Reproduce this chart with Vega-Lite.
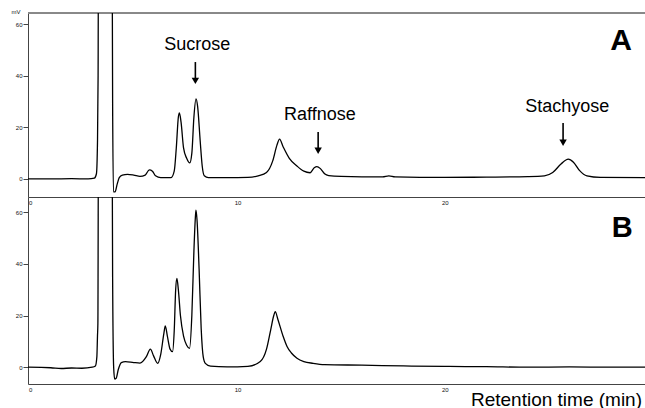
{
  "$schema": "https://vega.github.io/schema/vega-lite/v6.json",
  "padding": {"left": 11, "top": 8, "right": 0, "bottom": 0},
  "background": "white",
  "config": {
    "font": "Liberation Sans",
    "view": {"stroke": null},
    "concat": {"spacing": 0},
    "axis": {"grid": false, "domainColor": "#444", "tickColor": "#444", "labelColor": "#111", "labelFontSize": 6, "labelFont": "Liberation Sans"}
  },
  "datasets": {
    "traceA": [
      {"t": -0.1, "mv": 0}, {"t": 1, "mv": 0}, {"t": 2, "mv": 0.1}, {"t": 2.8, "mv": 0}, {"t": 3.1, "mv": 0.3},
      {"t": 3.2, "mv": 2}, {"t": 3.25, "mv": 14}, {"t": 3.28, "mv": 40}, {"t": 3.3, "mv": 100},
      {"t": 3.95, "mv": 100}, {"t": 3.98, "mv": 30}, {"t": 4.02, "mv": -5}, {"t": 4.1, "mv": -5},
      {"t": 4.2, "mv": -2}, {"t": 4.3, "mv": 0.5}, {"t": 4.45, "mv": 1.5}, {"t": 4.7, "mv": 1.8},
      {"t": 5.0, "mv": 1.5}, {"t": 5.3, "mv": 1.0}, {"t": 5.55, "mv": 1.5}, {"t": 5.75, "mv": 3.5},
      {"t": 5.9, "mv": 3.0}, {"t": 6.05, "mv": 1.2}, {"t": 6.3, "mv": 0.5}, {"t": 6.8, "mv": 0.5},
      {"t": 6.95, "mv": 3}, {"t": 7.05, "mv": 12}, {"t": 7.15, "mv": 24}, {"t": 7.2, "mv": 25.6},
      {"t": 7.28, "mv": 22}, {"t": 7.4, "mv": 12}, {"t": 7.55, "mv": 8}, {"t": 7.7, "mv": 6.2},
      {"t": 7.8, "mv": 10}, {"t": 7.9, "mv": 24}, {"t": 8.0, "mv": 31}, {"t": 8.08, "mv": 28},
      {"t": 8.2, "mv": 15}, {"t": 8.3, "mv": 5}, {"t": 8.4, "mv": 1.2}, {"t": 8.6, "mv": 0.5},
      {"t": 9.5, "mv": 0.5}, {"t": 10.5, "mv": 0.6}, {"t": 11.0, "mv": 1.2}, {"t": 11.4, "mv": 2.5},
      {"t": 11.7, "mv": 7}, {"t": 11.9, "mv": 13}, {"t": 12.03, "mv": 15.4}, {"t": 12.2, "mv": 12.5},
      {"t": 12.5, "mv": 8}, {"t": 12.87, "mv": 5}, {"t": 13.2, "mv": 3}, {"t": 13.5, "mv": 2.4},
      {"t": 13.7, "mv": 4.3}, {"t": 13.83, "mv": 4.8}, {"t": 14.0, "mv": 4}, {"t": 14.2, "mv": 2},
      {"t": 14.4, "mv": 1.3}, {"t": 15, "mv": 1}, {"t": 17, "mv": 0.8}, {"t": 17.3, "mv": 1.2},
      {"t": 17.6, "mv": 0.8}, {"t": 20, "mv": 0.6}, {"t": 22, "mv": 0.7}, {"t": 24, "mv": 0.9},
      {"t": 24.8, "mv": 1.2}, {"t": 25.2, "mv": 2.5}, {"t": 25.6, "mv": 5.8}, {"t": 25.95, "mv": 7.7},
      {"t": 26.2, "mv": 6.5}, {"t": 26.5, "mv": 3.2}, {"t": 26.85, "mv": 1.2}, {"t": 27.5, "mv": 0.6},
      {"t": 29.65, "mv": 0.5}
    ],
    "traceB": [
      {"t": -0.1, "mv": 0}, {"t": 1.0, "mv": -0.2}, {"t": 1.5, "mv": -0.5}, {"t": 2.0, "mv": -0.3},
      {"t": 2.5, "mv": -0.4}, {"t": 3.0, "mv": 0}, {"t": 3.15, "mv": 0.5}, {"t": 3.22, "mv": 4},
      {"t": 3.25, "mv": 12}, {"t": 3.27, "mv": 17}, {"t": 3.3, "mv": 100}, {"t": 3.95, "mv": 100},
      {"t": 3.98, "mv": 35}, {"t": 4.03, "mv": 0}, {"t": 4.08, "mv": -4.6}, {"t": 4.15, "mv": -4.3},
      {"t": 4.25, "mv": -1}, {"t": 4.4, "mv": 1.8}, {"t": 4.6, "mv": 2.2}, {"t": 5.0, "mv": 1.8},
      {"t": 5.3, "mv": 1.6}, {"t": 5.6, "mv": 4}, {"t": 5.8, "mv": 7}, {"t": 5.95, "mv": 4.5},
      {"t": 6.15, "mv": 1.5}, {"t": 6.3, "mv": 5}, {"t": 6.45, "mv": 13}, {"t": 6.52, "mv": 16},
      {"t": 6.62, "mv": 12}, {"t": 6.75, "mv": 7}, {"t": 6.87, "mv": 6}, {"t": 6.95, "mv": 14},
      {"t": 7.02, "mv": 30}, {"t": 7.08, "mv": 34.4}, {"t": 7.15, "mv": 30}, {"t": 7.25, "mv": 20},
      {"t": 7.4, "mv": 12}, {"t": 7.55, "mv": 8.5}, {"t": 7.69, "mv": 7.3}, {"t": 7.8, "mv": 20},
      {"t": 7.9, "mv": 45}, {"t": 7.97, "mv": 58}, {"t": 8.0, "mv": 60.8}, {"t": 8.05, "mv": 57},
      {"t": 8.15, "mv": 38}, {"t": 8.25, "mv": 15}, {"t": 8.35, "mv": 4}, {"t": 8.45, "mv": 1.5},
      {"t": 8.7, "mv": 0.4}, {"t": 9.5, "mv": 0.1}, {"t": 10.5, "mv": 0.3}, {"t": 11.1, "mv": 2.2},
      {"t": 11.4, "mv": 7}, {"t": 11.6, "mv": 14.4}, {"t": 11.75, "mv": 20}, {"t": 11.82, "mv": 21.5},
      {"t": 11.95, "mv": 18.5}, {"t": 12.2, "mv": 12}, {"t": 12.39, "mv": 8}, {"t": 12.6, "mv": 5.5},
      {"t": 12.87, "mv": 3.5}, {"t": 13.2, "mv": 2.2}, {"t": 13.65, "mv": 1.5}, {"t": 14.2, "mv": 1.0},
      {"t": 16, "mv": 0.8}, {"t": 18, "mv": 0.5}, {"t": 20, "mv": 0.3}, {"t": 22, "mv": 0.2},
      {"t": 24, "mv": 0}, {"t": 26, "mv": 0.1}, {"t": 28, "mv": 0}, {"t": 29.65, "mv": 0}
    ],
    "labelsA": [
      {"label": "Sucrose", "t": 8.06, "y": 51.8},
      {"label": "Raffnose", "t": 13.97, "y": 24.8},
      {"label": "Stachyose", "t": 25.9, "y": 27.9}
    ],
    "arrowsA": [
      {"t": 7.97, "y1": 45.3, "y2": 38.5, "ty": 38.0},
      {"t": 13.89, "y1": 18.2, "y2": 11.5, "ty": 10.9},
      {"t": 25.7, "y1": 21.7, "y2": 14.5, "ty": 14.0}
    ],
    "panelA": [{"label": "A", "t": 28.5, "y": 53.5}],
    "panelB": [{"label": "B", "t": 28.55, "y": 53.8}]
  },
  "vconcat": [
    {
      "width": 617,
      "height": 184,
      "layer": [
        {
          "data": {"name": "traceA"},
          "mark": {"type": "rule", "color": "#888", "strokeWidth": 1},
          "encoding": {"y": {"datum": 64.3, "type": "quantitative"}}
        },
        {
          "data": {"name": "traceA"},
          "mark": {"type": "line", "color": "black", "strokeWidth": 1.3, "clip": true, "interpolate": "monotone"},
          "encoding": {
            "x": {"field": "t", "type": "quantitative", "scale": {"domain": [-0.1, 29.65], "nice": false, "zero": false},
                  "axis": {"values": [0, 10, 20], "ticks": false, "labelPadding": 2, "title": null, "domain": true}},
            "y": {"field": "mv", "type": "quantitative", "scale": {"domain": [-7, 64.3], "nice": false, "zero": false},
                  "axis": {"values": [0, 20, 40, 60], "tickSize": 5, "labelPadding": 1, "title": "mV", "titleAngle": 0,
                           "titleX": -12.5, "titleY": -2, "titleFontSize": 6, "titleFontWeight": "normal",
                           "titleAlign": "center", "titleBaseline": "middle", "titleColor": "#111"}}
          }
        },
        {
          "data": {"name": "arrowsA"},
          "mark": {"type": "rule", "color": "black", "strokeWidth": 1.6},
          "encoding": {
            "x": {"field": "t", "type": "quantitative"},
            "y": {"field": "y1", "type": "quantitative"},
            "y2": {"field": "y2"}
          }
        },
        {
          "data": {"name": "arrowsA"},
          "mark": {"type": "point", "shape": "triangle-down", "filled": true, "color": "black", "size": 55, "opacity": 1},
          "encoding": {
            "x": {"field": "t", "type": "quantitative"},
            "y": {"field": "ty", "type": "quantitative"}
          }
        },
        {
          "data": {"name": "labelsA"},
          "mark": {"type": "text", "fontSize": 18, "color": "black", "baseline": "middle", "align": "center"},
          "encoding": {
            "x": {"field": "t", "type": "quantitative"},
            "y": {"field": "y", "type": "quantitative"},
            "text": {"field": "label"}
          }
        },
        {
          "data": {"name": "panelA"},
          "mark": {"type": "text", "fontSize": 30, "fontWeight": "bold", "color": "black", "baseline": "middle", "align": "center"},
          "encoding": {
            "x": {"field": "t", "type": "quantitative"},
            "y": {"field": "y", "type": "quantitative"},
            "text": {"field": "label"}
          }
        }
      ]
    },
    {
      "width": 617,
      "height": 187,
      "layer": [
        {
          "data": {"name": "traceB"},
          "mark": {"type": "line", "color": "black", "strokeWidth": 1.3, "clip": true, "interpolate": "monotone"},
          "encoding": {
            "x": {"field": "t", "type": "quantitative", "scale": {"domain": [-0.1, 29.65], "nice": false, "zero": false},
                  "axis": {"values": [0, 10, 20], "ticks": false, "labelPadding": 2, "title": "Retention time (min)",
                           "titleFontSize": 19, "titleFontWeight": "normal", "titleColor": "black",
                           "titleAnchor": "end", "titleAlign": "right", "titleBaseline": "alphabetic",
                           "titleX": 613.5, "titleY": 21}},
            "y": {"field": "mv", "type": "quantitative", "scale": {"domain": [-6.5, 65.9], "nice": false, "zero": false},
                  "axis": {"values": [0, 20, 40, 60], "tickSize": 5, "labelPadding": 1, "title": null}}
          }
        },
        {
          "data": {"name": "panelB"},
          "mark": {"type": "text", "fontSize": 29, "fontWeight": "bold", "color": "black", "baseline": "middle", "align": "center"},
          "encoding": {
            "x": {"field": "t", "type": "quantitative"},
            "y": {"field": "y", "type": "quantitative"},
            "text": {"field": "label"}
          }
        }
      ]
    }
  ],
  "bounds": "flush"
}
